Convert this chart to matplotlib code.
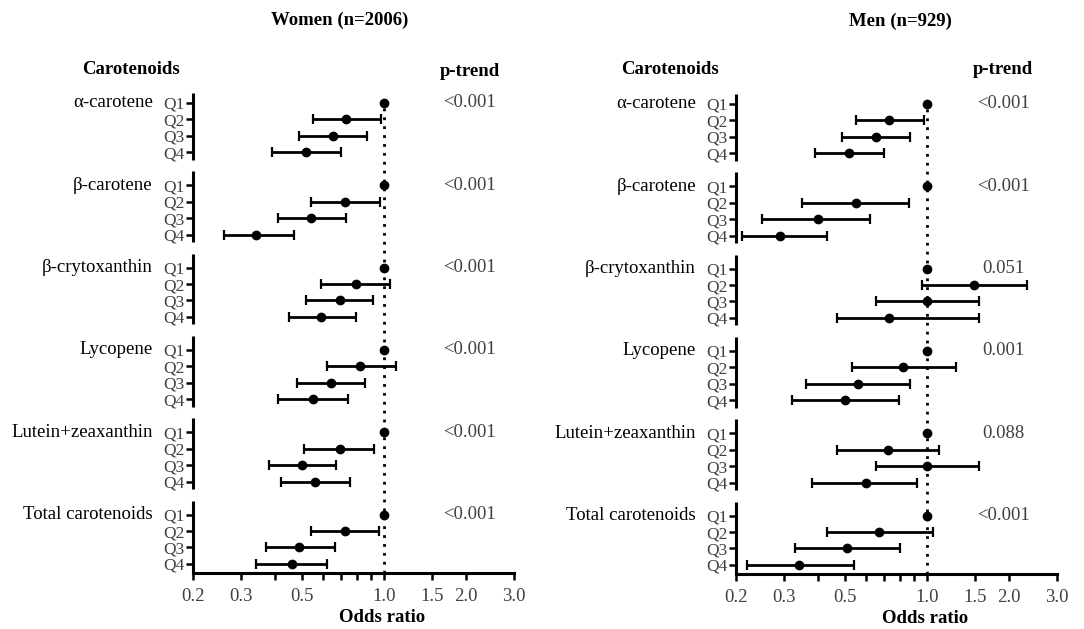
import numpy as np
import matplotlib
matplotlib.use("Agg")
import matplotlib.pyplot as plt
from matplotlib.ticker import FixedLocator, NullLocator, FixedFormatter

plt.rcParams['font.family'] = ['Liberation Serif', 'DejaVu Serif']

# === Data ===
carotenoids = ["α-carotene", "β-carotene", "β-crytoxanthin", "Lycopene",
               "Lutein+zeaxanthin", "Total carotenoids"]
quartiles = ["Q1", "Q2", "Q3", "Q4"]

# odds ratio (Q1 = reference 1.0), lower and upper 95% CI per quartile
women_or = [[1.0, 0.73, 0.65, 0.52], [1.0, 0.72, 0.54, 0.34], [1.0, 0.79, 0.69, 0.59],
            [1.0, 0.82, 0.64, 0.55], [1.0, 0.69, 0.50, 0.56], [1.0, 0.72, 0.49, 0.46]]
women_lo = [[1.0, 0.55, 0.49, 0.39], [1.0, 0.54, 0.41, 0.26], [1.0, 0.59, 0.52, 0.45],
            [1.0, 0.62, 0.48, 0.41], [1.0, 0.51, 0.38, 0.42], [1.0, 0.54, 0.37, 0.34]]
women_hi = [[1.0, 0.98, 0.87, 0.70], [1.0, 0.97, 0.73, 0.47], [1.0, 1.05, 0.91, 0.79],
            [1.0, 1.11, 0.85, 0.74], [1.0, 0.92, 0.67, 0.75], [1.0, 0.96, 0.66, 0.62]]
women_p = ["<0.001", "<0.001", "<0.001", "<0.001", "<0.001", "<0.001"]

men_or = [[1.0, 0.73, 0.65, 0.52], [1.0, 0.55, 0.40, 0.29], [1.0, 1.49, 1.00, 0.73],
          [1.0, 0.82, 0.56, 0.50], [1.0, 0.72, 1.00, 0.60], [1.0, 0.67, 0.51, 0.34]]
men_lo = [[1.0, 0.55, 0.49, 0.39], [1.0, 0.35, 0.25, 0.21], [1.0, 0.96, 0.65, 0.47],
          [1.0, 0.53, 0.36, 0.32], [1.0, 0.47, 0.65, 0.38], [1.0, 0.43, 0.33, 0.22]]
men_hi = [[1.0, 0.98, 0.87, 0.70], [1.0, 0.86, 0.62, 0.43], [1.0, 2.33, 1.55, 1.55],
          [1.0, 1.28, 0.87, 0.79], [1.0, 1.11, 1.55, 0.92], [1.0, 1.05, 0.80, 0.54]]
men_p = ["<0.001", "<0.001", "0.051", "0.001", "0.088", "<0.001"]

xticks = [0.2, 0.3, 0.4, 0.5, 0.6, 0.7, 0.8, 0.9, 1.0, 1.5, 2.0, 3.0]
xticklabels = ["0.2", "0.3", "", "0.5", "", "", "", "", "1.0", "1.5", "2.0", "3.0"]

GREY = "#404040"


def forest(ax, ors, los, his, pvals, p_x):
    rows_per_group = 5  # 4 quartiles + 1 blank row
    ytick_pos, ytick_lab = [], []
    for g, name in enumerate(carotenoids):
        base = g * rows_per_group
        ys = np.arange(4) + base
        o = np.array(ors[g]); lo = np.array(los[g]); hi = np.array(his[g])
        # Q1 is reference: marker only
        ax.plot(o[:1], ys[:1], "o", color="black", ms=6, zorder=4)
        ax.errorbar(o[1:], ys[1:], xerr=[o[1:] - lo[1:], hi[1:] - o[1:]],
                    fmt="o", color="black", ms=6, elinewidth=2, capsize=3.5,
                    capthick=1.6, zorder=4)
        ytick_pos += list(ys)
        ytick_lab += quartiles
        ax.text(-0.125, base, name, transform=ax.get_yaxis_transform(),
                ha="right", va="center", fontsize=13.5, color="black")
        ax.text(p_x, base, pvals[g], transform=ax.get_yaxis_transform(),
                ha="center", va="center", fontsize=13.5, color=GREY)
        # broken left spine, one segment per group
        top = base - (0.6 if g == 0 else 0.85)
        bottom = base + 3 + (0.55 if g == len(carotenoids) - 1 else 0.45)
        ax.plot([0.2, 0.2], [top, bottom], color="black", lw=2.2,
                clip_on=False, solid_capstyle="butt", zorder=5)

    ax.axvline(1.0, color="black", lw=2, linestyle=(0, (1, 2.2)), zorder=3)
    ax.set_xscale("log")
    ax.set_xlim(0.2, 3.0)
    ax.set_ylim(28.55, -0.6)
    ax.xaxis.set_major_locator(FixedLocator(xticks))
    ax.xaxis.set_major_formatter(FixedFormatter(xticklabels))
    ax.xaxis.set_minor_locator(NullLocator())
    ax.set_yticks(ytick_pos)
    ax.set_yticklabels(ytick_lab)
    ax.tick_params(axis="y", length=5, width=1.8, pad=1, labelsize=12.5,
                   labelcolor=GREY)
    ax.tick_params(axis="x", length=5, width=1.8, pad=6, labelsize=13.5,
                   labelcolor=GREY)
    for s in ["top", "right", "left"]:
        ax.spines[s].set_visible(False)
    ax.spines["bottom"].set_linewidth(2.2)
    ax.set_xlabel("Odds ratio", fontsize=13.5, fontweight="bold", va="center")
    ax.xaxis.set_label_coords(0.59, -0.092)


fig = plt.figure(figsize=(10.84, 6.29), dpi=100)
ax_w = fig.add_axes([193 / 1084, 1 - 573 / 629, 321 / 1084, 480 / 629])
ax_m = fig.add_axes([736 / 1084, 1 - 574 / 629, 321 / 1084, 480 / 629])

forest(ax_w, women_or, women_lo, women_hi, women_p, (470 - 193) / 321)
forest(ax_m, men_or, men_lo, men_hi, men_p, (1003 - 736) / 321)

fig.text(340 / 1084, 1 - 20 / 629, "Women (n=2006)", ha="center", va="center",
         fontsize=13.5, fontweight="bold")
fig.text(900 / 1084, 1 - 21 / 629, "Men (n=929)", ha="center", va="center",
         fontsize=13.5, fontweight="bold")
fig.text(131 / 1084, 1 - 70 / 629, "Carotenoids", ha="center", va="center",
         fontsize=13.5, fontweight="bold")
fig.text(470 / 1084, 1 - 72 / 629, "p-trend", ha="center", va="center",
         fontsize=13.5, fontweight="bold")
fig.text(670 / 1084, 1 - 70 / 629, "Carotenoids", ha="center", va="center",
         fontsize=13.5, fontweight="bold")
fig.text(1003 / 1084, 1 - 69 / 629, "p-trend", ha="center", va="center",
         fontsize=13.5, fontweight="bold")

fig.savefig("out.png", dpi=100)
